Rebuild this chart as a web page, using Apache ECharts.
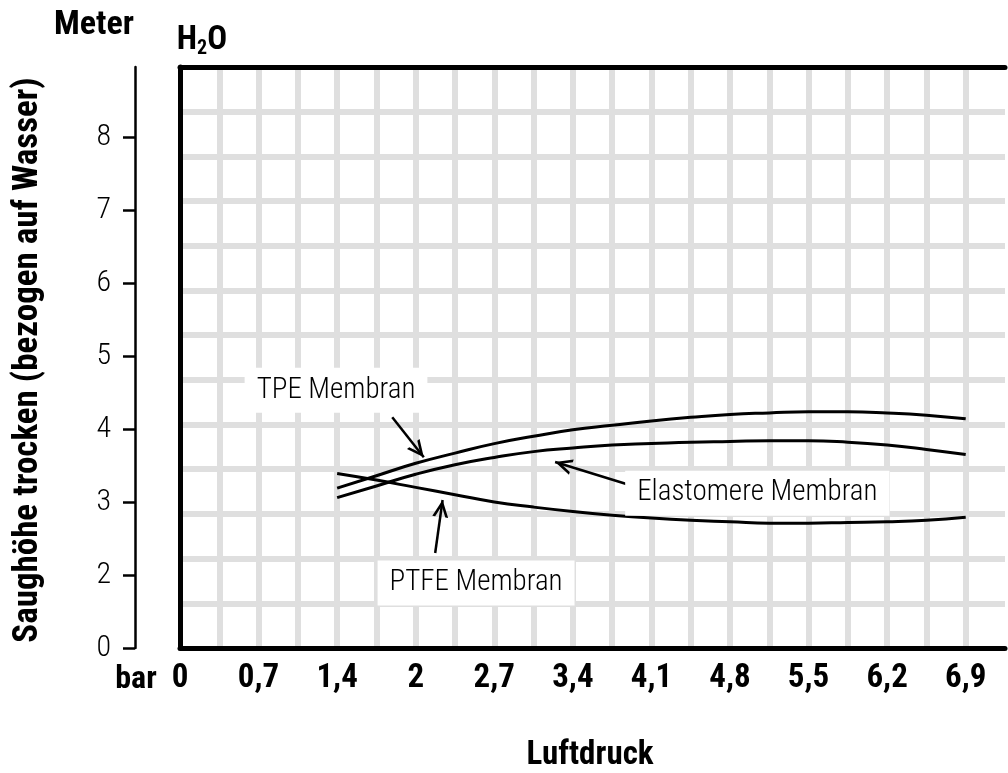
<!DOCTYPE html>
<html>
<head>
<meta charset="utf-8">
<script src="https://cdn.jsdelivr.net/npm/echarts@6/dist/echarts.min.js"></script>
<style>
html,body{margin:0;padding:0;background:#fff;}
#chart{width:1008px;height:773px;}
</style>
</head>
<body>
<div id="chart"></div>
<script>
// ---- data ----
const xTickLabels = ['0','0,7','1,4','2','2,7','3,4','4,1','4,8','5,5','6,2','6,9'];
const xCell = 0.345;            // bar per grid cell (two cells per label)
const yTickValues = [1,2,3,4,5,6,7,8];
const yTickLabels = ['0','2','3','4','5','6','7','8'];

const pressure   = [1.38,1.725,2.07,2.415,2.76,3.105,3.45,3.795,4.14,4.485,4.83,5.175,5.52,5.865,6.21,6.555,6.9];
const tpe        = [3.19,3.36,3.53,3.67,3.80,3.90,3.99,4.05,4.11,4.16,4.20,4.22,4.235,4.235,4.22,4.19,4.14];
const elastomere = [3.06,3.22,3.38,3.51,3.61,3.69,3.74,3.78,3.80,3.82,3.83,3.84,3.84,3.82,3.78,3.72,3.65];
const ptfe       = [3.39,3.30,3.20,3.10,3.00,2.93,2.87,2.82,2.78,2.75,2.73,2.71,2.71,2.72,2.73,2.75,2.79];

const annoText  = ['TPE Membran','Elastomere Membran','PTFE Membran'];
const annoLabel = [[1.37,4.53],[5.07,3.12],[2.60,1.89]];
const annoFrom  = [[1.864,4.16],[4.005,3.205],[2.241,2.301]];
const annoTo    = [[2.141,3.612],[3.294,3.548],[2.306,3.027]];

// ---- chart ----
const FONT = "'Roboto Condensed','Liberation Sans Narrow','DejaVu Sans Condensed',sans-serif";
const xMax = xCell * 21;
const yMax = 1 + 581/73;
const pairs = (ys) => pressure.map((x,i)=>[x, ys[i]]);
const chevron = 'path://M5,0 L5.01,0 Z M5,10 L10,20 L8.2,20 L5,13.6 L1.8,20 L0,20 Z';

const chart = echarts.init(document.getElementById('chart'), null, {renderer:'canvas'});
const lineSeries = (name, ys, extra) => Object.assign({
  name, type:'line', data: pairs(ys), smooth:true, symbol:'none',
  lineStyle:{color:'#000', width:3}, xAxisIndex:0, yAxisIndex:0, z:3, silent:true
}, extra||{});
const borderAxis = (pos, mn, mx) => ({type:'value', min:mn, max:mx, position:pos, z:10,
  axisLine:{show:true, onZero:false, lineStyle:{color:'#000', width:5}},
  axisTick:{show:false}, axisLabel:{show:false}, splitLine:{show:false}});

const option = {
  animation:false,
  backgroundColor:'#fff',
  grid:{left:180, top:67, right:-8, bottom:125, containLabel:false},
  xAxis:[
    {type:'value', min:0, max:xMax, interval:xCell, position:'bottom',
     axisLine:{show:false, onZero:false}, axisTick:{show:false},
     axisLabel:{margin:14, color:'#000', fontSize:33, fontWeight:'bold', fontFamily:FONT,
       formatter:(v)=>{const k=Math.round(v/xCell); return (k%2===0 && xTickLabels[k/2]!==undefined)? xTickLabels[k/2] : '';}},
     splitLine:{show:true, showMinLine:false, showMaxLine:false, lineStyle:{color:'#dfdfdf', width:6}}},
    borderAxis('top', 0, xMax),
    borderAxis('bottom', 0, xMax)
  ],
  yAxis:[
    {type:'value', min:1, max:yMax, interval:1, position:'left', offset:45,
     axisLine:{show:true, onZero:false, lineStyle:{color:'#000', width:2.5}},
     axisTick:{show:true, length:12, customValues:yTickValues, lineStyle:{color:'#000', width:2.5}},
     axisLabel:{customValues:yTickValues, margin:24, color:'#000', fontSize:30, fontWeight:300, fontFamily:FONT,
       formatter:(v)=>{const i=yTickValues.indexOf(Math.round(v)); return i>=0? yTickLabels[i] : '';}},
     splitLine:{show:false}},
    {type:'value', min:0, max:13, interval:1, position:'left', offset:0,
     axisLine:{show:false, onZero:false}, axisTick:{show:false}, axisLabel:{show:false},
     splitLine:{show:true, showMinLine:false, showMaxLine:false, lineStyle:{color:'#dfdfdf', width:6}}},
    borderAxis('left', 0, 13)
  ],
  series:[
    lineSeries('TPE Membran', tpe, {
      markLine:{
        silent:true, animation:false, symbol:['none', chevron], symbolSize:[16,34],
        label:{show:false},
        lineStyle:{color:'#000', width:2.5, type:'solid'},
        data: annoFrom.map((f,i)=>[{coord:f}, {coord:annoTo[i]}])
      },
      markPoint:{
        silent:true, animation:false, symbol:'rect', symbolSize:0,
        label:{show:true, position:'inside', color:'#000', fontSize:29, fontWeight:300, fontFamily:FONT,
          backgroundColor:'#fff', padding:[8,12], formatter:(p)=>p.name},
        data: annoLabel.map((c,i)=>({name:annoText[i], coord:c}))
      }
    }),
    lineSeries('Elastomere Membran', elastomere),
    lineSeries('PTFE Membran', ptfe)
  ],
  graphic:[
    {type:'text', x:94, y:25, style:{text:'Meter', fill:'#000', font:"bold 34px "+FONT, align:'center', verticalAlign:'middle'}},
    {type:'text', x:202, y:41, style:{text:'{a|H}{b|2}{a|O}', fill:'#000', align:'center', verticalAlign:'middle',
      rich:{a:{fontSize:33, fontWeight:'bold', fontFamily:FONT, fill:'#000'}, b:{fontSize:20, fontWeight:'bold', fontFamily:FONT, fill:'#000', padding:[15,0,0,0]}}}},
    {type:'text', x:136, y:680, style:{text:'bar', fill:'#000', font:"bold 32px "+FONT, align:'center', verticalAlign:'middle'}},
    {type:'text', x:590, y:756, style:{text:'Luftdruck', fill:'#000', font:"bold 33px "+FONT, align:'center', verticalAlign:'middle'}},
    {type:'text', x:28, y:360, rotation:Math.PI/2, style:{text:'Saughöhe trocken (bezogen auf Wasser)', fill:'#000', font:"bold 35px "+FONT, align:'center', verticalAlign:'middle'}}
  ]
};
chart.setOption(option);
</script>
</body>
</html>
